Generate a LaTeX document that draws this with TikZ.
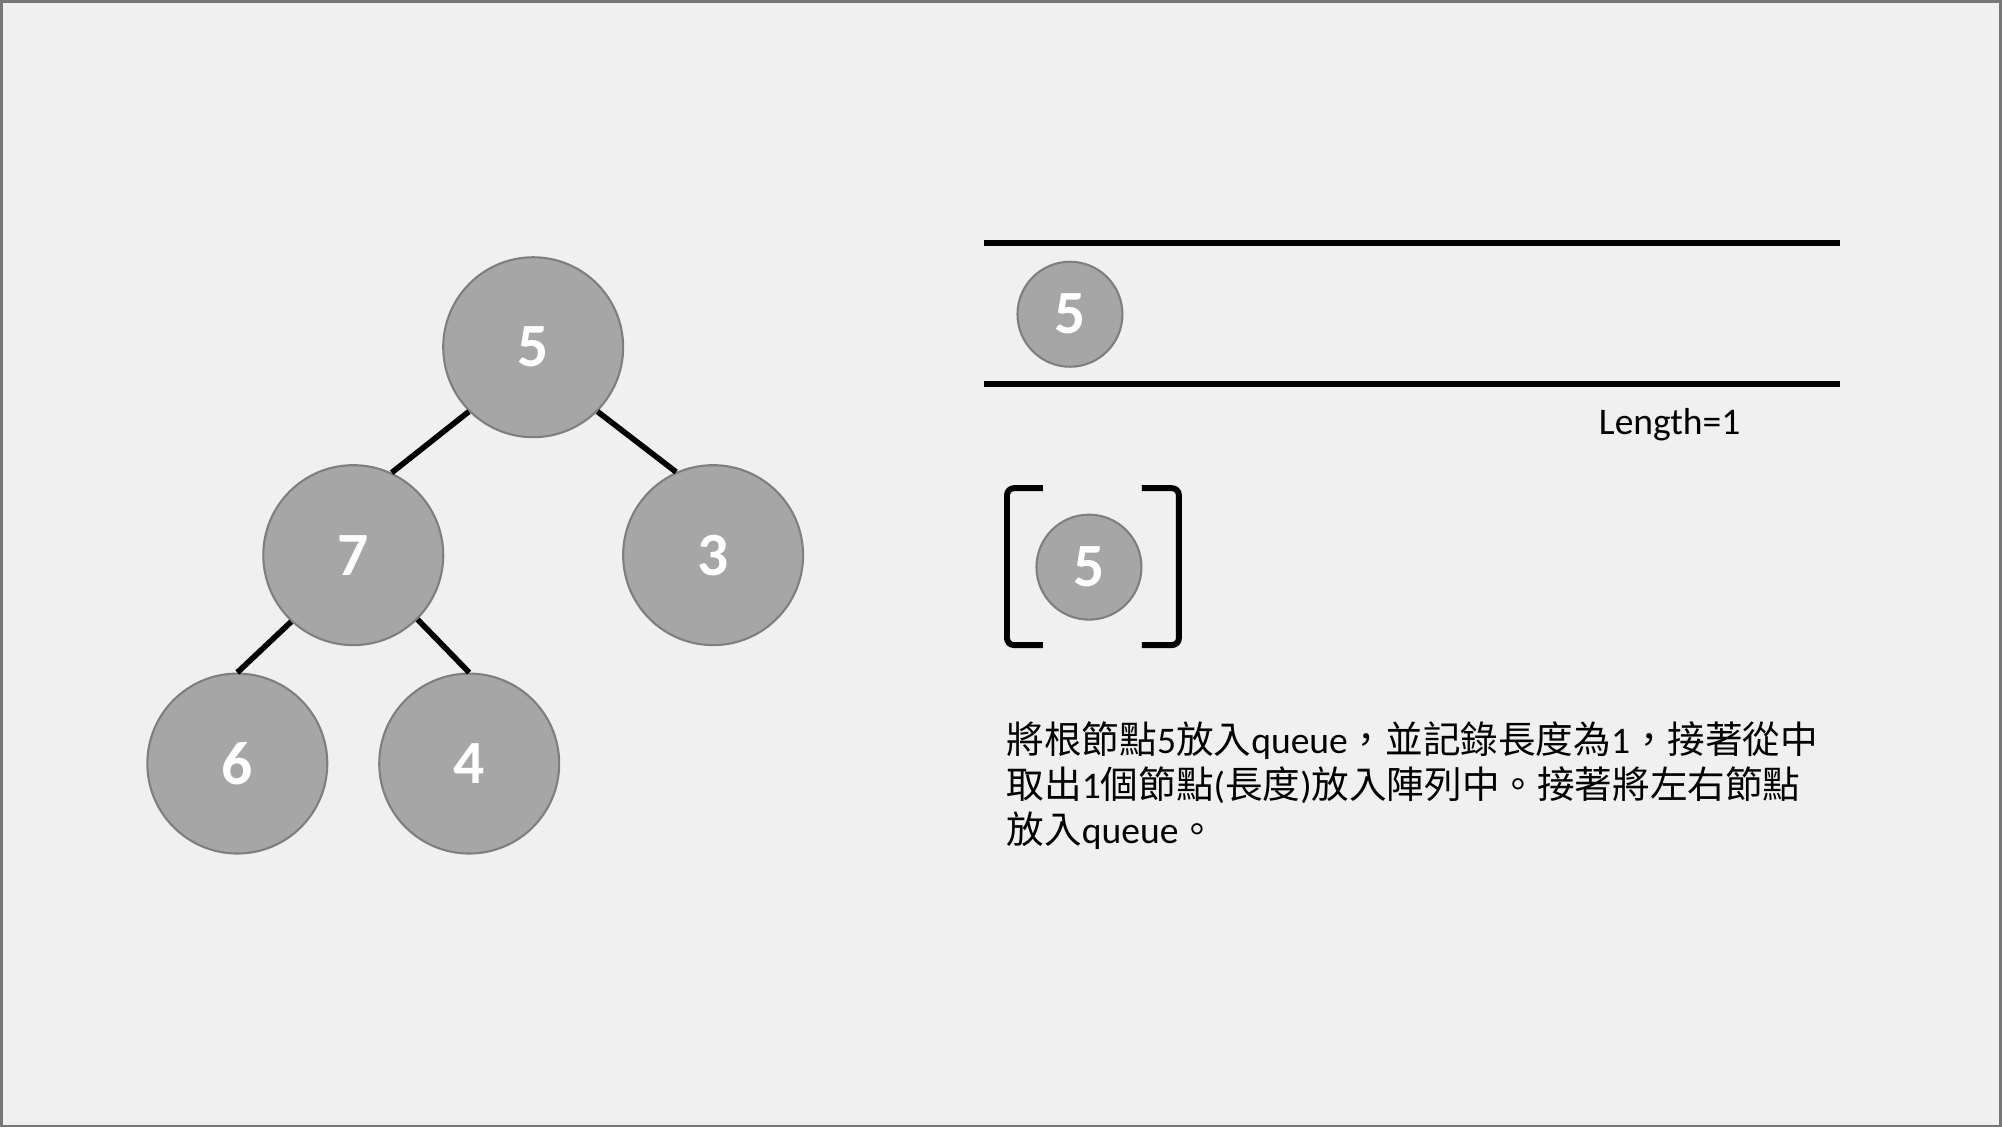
\documentclass[tikz,border=0pt]{standalone}
\usepackage{fontspec}
\setmainfont{Carlito}
\newfontfamily\cjk{Noto Sans CJK TC}
\definecolor{bgcol}{HTML}{F0F0F0}
\definecolor{ballfill}{HTML}{A6A6A6}
\definecolor{balledge}{HTML}{7F7F7F}
\definecolor{framecol}{HTML}{777777}
\begin{document}
\begin{tikzpicture}[font=\fontsize{10.7}{12.8}\selectfont,
  ball/.style={circle, draw=balledge, fill=ballfill, line width=0.6pt, minimum size=1.8cm, inner sep=0pt, text=white, font=\fontsize{17.5}{17.5}\selectfont\bfseries},
  qball/.style={ball, minimum size=1.05cm},
  edge/.style={line width=1.6pt},
  bar/.style={line width=1.7pt}]
  \fill[bgcol] (0,0) rectangle (20.02,11.27);
  \draw[framecol, line width=0.8pt] (0.01,0.01) rectangle (20.01,11.26);
  \useasboundingbox (0,0) rectangle (20.02,11.27);
  % tree
  \node[ball] (r5) at (5.33,7.80) {5};
  \node[ball] (r7) at (3.53,5.72) {7};
  \node[ball] (r3) at (7.13,5.72) {3};
  \node[ball] (r6) at (2.37,3.635) {6};
  \node[ball] (r4) at (4.69,3.635) {4};
  \draw[edge] (r5.225) -- (r7.65);
  \draw[edge] (r5.315) -- (r3.114);
  \draw[edge] (r7.227) -- (r6.north);
  \draw[edge] (r7.315) -- (r4.north);
  % queue
  \coordinate (qa) at (9.84,8.84);
  \coordinate (qb) at (18.40,8.84);
  \coordinate (qc) at (9.84,7.43);
  \coordinate (qd) at (18.40,7.43);
  \draw[bar] (qa) -- (qb);
  \draw[bar] (qc) -- (qd);
  \node[qball] (q5) at (10.70,8.13) {5};
  \node (len) at (16.70,7.03) {Length=1};
  % result array
  \draw[bar, rounded corners=2pt] (10.43,6.39) -- (10.07,6.39) -- (10.07,4.82) -- (10.43,4.82);
  \draw[bar, rounded corners=2pt] (11.42,6.39) -- (11.79,6.39) -- (11.79,4.82) -- (11.42,4.82);
  \node[qball] (a5) at (10.89,5.60) {5};
  \node[anchor=north west, align=left, inner sep=0pt] (note) at (10.06,4.06)
    {{\cjk 將根節點}5{\cjk 放入}queue{\cjk ，並記錄長度為}1{\cjk ，接著從中}\\
     {\cjk 取出}1{\cjk 個節點}({\cjk 長度}){\cjk 放入陣列中。接著將左右節點}\\
     {\cjk 放入}queue{\cjk 。}};
\end{tikzpicture}
\end{document}
